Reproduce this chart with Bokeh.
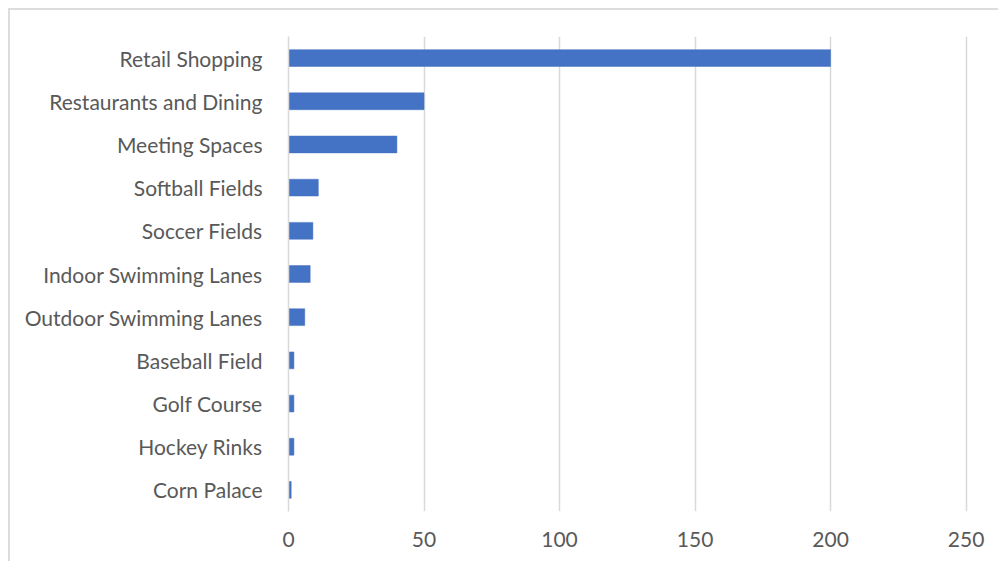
from bokeh.plotting import figure
from bokeh.models import FactorRange, Range1d, FixedTicker, ColumnDataSource
from bokeh.embed import file_html
from bokeh.resources import INLINE

categories = ["Retail Shopping", "Restaurants and Dining", "Meeting Spaces",
              "Softball Fields", "Soccer Fields", "Indoor Swimming Lanes",
              "Outdoor Swimming Lanes", "Baseball Field", "Golf Course",
              "Hockey Rinks", "Corn Palace"]
values = [200, 50, 40, 11, 9, 8, 6, 2, 2, 2, 1]
x_ticks = [0, 50, 100, 150, 200, 250]

src = ColumnDataSource(dict(cat=categories, val=values))

p = figure(width=990, height=553, output_backend="svg", toolbar_location=None,
           y_range=FactorRange(factors=list(reversed(categories))),
           x_range=Range1d(0, 252),
           min_border_left=278, min_border_right=29,
           min_border_top=26, min_border_bottom=52)
p.styles = {"border-left": "2px solid #dcdcdc", "border-top": "2px solid #dcdcdc",
            "margin-left": "8px", "margin-top": "8px"}

p.hbar(y="cat", right="val", left=0, height=0.39, source=src,
       fill_color="#4472C4", line_color="#4472C4", line_width=0.5)

p.outline_line_color = None
p.ygrid.grid_line_color = None
p.xgrid.grid_line_color = "#d9d9d9"
p.xgrid.grid_line_width = 1.5
p.xaxis.ticker = FixedTicker(ticks=x_ticks)

p.xaxis.axis_line_color = None
p.xaxis.major_tick_line_color = None
p.xaxis.minor_tick_line_color = None
p.xaxis.major_label_standoff = 14
p.xaxis.major_label_text_font = "Lato"
p.xaxis.major_label_text_font_size = "21px"
p.xaxis.major_label_text_color = "#595959"

p.yaxis.axis_line_color = "#d9d9d9"
p.yaxis.axis_line_width = 1.5
p.yaxis.major_tick_line_color = None
p.yaxis.minor_tick_line_color = None
p.yaxis.major_tick_out = 0
p.yaxis.major_label_standoff = 26
p.yaxis.major_label_text_font = "Lato"
p.yaxis.major_label_text_font_size = "21px"
p.yaxis.major_label_text_color = "#595959"

open("out.html", "w").write(file_html(p, INLINE))
